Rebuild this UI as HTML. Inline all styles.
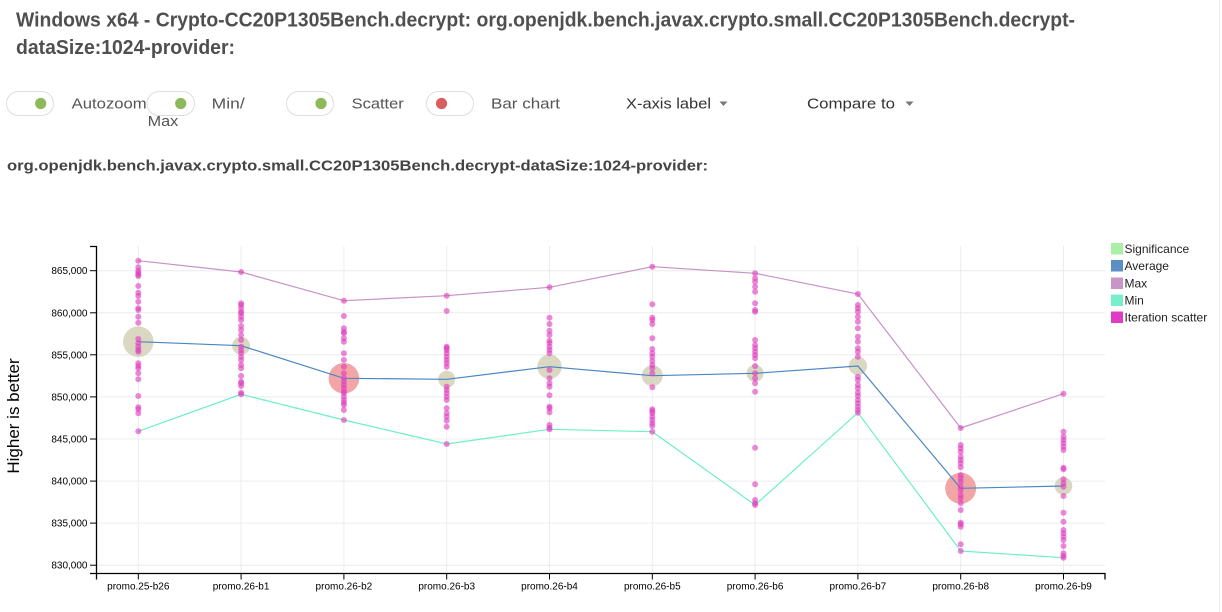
<!DOCTYPE html>
<html><head><meta charset="utf-8">
<style>
html,body{margin:0;padding:0;background:#fff;width:1222px;height:612px;overflow:hidden}
svg{display:block;font-family:"Liberation Sans",Arial,sans-serif}
.ctl{font-size:15px;fill:#555}
.yt{font-size:10px;fill:#000;text-anchor:end}
.xt{font-size:10px;fill:#000;text-anchor:middle}
.lg{font-size:12px;fill:#222}
.g line{stroke:#ececec;stroke-width:1}
.d circle{fill:#de3fbe;fill-opacity:.62}
</style></head>
<body>
<svg width="1222" height="612" viewBox="0 0 1222 612" xmlns="http://www.w3.org/2000/svg">
<!-- header -->
<text x="16" y="26.5" font-size="20" font-weight="bold" fill="#4f4f4f" textLength="1059" lengthAdjust="spacingAndGlyphs">Windows x64 - Crypto-CC20P1305Bench.decrypt: org.openjdk.bench.javax.crypto.small.CC20P1305Bench.decrypt-</text>
<text x="16" y="54" font-size="20" font-weight="bold" fill="#4f4f4f" textLength="219" lengthAdjust="spacingAndGlyphs">dataSize:1024-provider:</text>

<!-- toggles -->
<rect x="6.5" y="91.5" width="47" height="24" rx="12" fill="#fff" stroke="#dedede"/>
<circle cx="40.7" cy="103.5" r="5.6" fill="#8cb95a"/>
<text class="ctl" x="71.7" y="108.5" textLength="75" lengthAdjust="spacingAndGlyphs">Autozoom</text>
<rect x="147" y="91.5" width="47.5" height="24" rx="12" fill="#fff" stroke="#dedede"/>
<circle cx="180.7" cy="103.5" r="5.6" fill="#8cb95a"/>
<text class="ctl" x="211.7" y="108.5" textLength="33" lengthAdjust="spacingAndGlyphs">Min/</text>
<text class="ctl" x="147.7" y="126" textLength="30.6" lengthAdjust="spacingAndGlyphs">Max</text>
<rect x="286.5" y="91.5" width="47" height="24" rx="12" fill="#fff" stroke="#dedede"/>
<circle cx="321" cy="103.5" r="5.6" fill="#8cb95a"/>
<text class="ctl" x="351.7" y="108.5" textLength="52" lengthAdjust="spacingAndGlyphs">Scatter</text>
<rect x="426.5" y="91.5" width="47" height="24" rx="12" fill="#fff" stroke="#dedede"/>
<circle cx="441.5" cy="103.5" r="5.6" fill="#d75f5e"/>
<text class="ctl" x="491" y="108.5" textLength="69" lengthAdjust="spacingAndGlyphs">Bar chart</text>
<text class="ctl" x="626" y="108.5" fill="#333" style="fill:#333" textLength="85" lengthAdjust="spacingAndGlyphs">X-axis label</text>
<path d="M719.5,101.5 h8 l-4,4.5 z" fill="#777"/>
<text class="ctl" x="807" y="108.5" style="fill:#333" textLength="88" lengthAdjust="spacingAndGlyphs">Compare to</text>
<path d="M905.5,101.5 h8 l-4,4.5 z" fill="#777"/>

<text x="7" y="170.5" font-size="15" font-weight="bold" fill="#444" textLength="701" lengthAdjust="spacingAndGlyphs">org.openjdk.bench.javax.crypto.small.CC20P1305Bench.decrypt-dataSize:1024-provider:</text>

<!-- right edge line -->
<line x1="1219.5" y1="0" x2="1219.5" y2="612" stroke="#ececec"/>

<!-- grid -->
<g class="g">
<line x1="97" y1="565.2" x2="1105" y2="565.2"/>
<line x1="97" y1="523.1" x2="1105" y2="523.1"/>
<line x1="97" y1="481.1" x2="1105" y2="481.1"/>
<line x1="97" y1="439" x2="1105" y2="439"/>
<line x1="97" y1="396.9" x2="1105" y2="396.9"/>
<line x1="97" y1="354.8" x2="1105" y2="354.8"/>
<line x1="97" y1="312.8" x2="1105" y2="312.8"/>
<line x1="97" y1="270.7" x2="1105" y2="270.7"/>
<line x1="138.3" y1="246" x2="138.3" y2="573"/>
<line x1="241.1" y1="246" x2="241.1" y2="573"/>
<line x1="343.9" y1="246" x2="343.9" y2="573"/>
<line x1="446.7" y1="246" x2="446.7" y2="573"/>
<line x1="549.5" y1="246" x2="549.5" y2="573"/>
<line x1="652.3" y1="246" x2="652.3" y2="573"/>
<line x1="755.1" y1="246" x2="755.1" y2="573"/>
<line x1="857.9" y1="246" x2="857.9" y2="573"/>
<line x1="960.7" y1="246" x2="960.7" y2="573"/>
<line x1="1063.5" y1="246" x2="1063.5" y2="573"/>
</g>

<!-- significance circles -->
<g fill-opacity="0.85">
<circle cx="138.3" cy="341.7" r="15.3" fill="#d3d0b8"/>
<circle cx="241.1" cy="345.7" r="9" fill="#d3d0b8"/>
<circle cx="343.9" cy="378.3" r="15.3" fill="#ee9596"/>
<circle cx="446.7" cy="379.3" r="8.5" fill="#d3d0b8"/>
<circle cx="549.5" cy="366.7" r="12.2" fill="#d3d0b8"/>
<circle cx="652.3" cy="375.7" r="10.5" fill="#d3d0b8"/>
<circle cx="755.1" cy="373.3" r="8.5" fill="#d3d0b8"/>
<circle cx="857.9" cy="366" r="9.2" fill="#d3d0b8"/>
<circle cx="960.7" cy="488.3" r="15.5" fill="#ee9596"/>
<circle cx="1063.5" cy="486" r="8.8" fill="#d3d0b8"/>
</g>

<!-- lines -->
<polyline fill="none" stroke="#c792c5" stroke-width="1.2" points="138.3,260.7 241.1,272 343.9,300.7 446.7,295.7 549.5,287.3 652.3,266.7 755.1,273.3 857.9,294 960.7,428 1063.5,393.7"/>
<polyline fill="none" stroke="#4a86c2" stroke-width="1.2" points="138.3,341.7 241.1,345.7 343.9,378.3 446.7,379.3 549.5,366.7 652.3,375.7 755.1,373.3 857.9,366 960.7,488.3 1063.5,486"/>
<polyline fill="none" stroke="#6fefc6" stroke-width="1.2" points="138.3,431.3 241.1,394.3 343.9,420 446.7,444 549.5,429.3 652.3,431.7 755.1,505 857.9,412.7 960.7,551 1063.5,557.7"/>

<!-- scatter -->
<g class="d">
<!-- col0 -->
<g transform="translate(138.3,0)">
<circle cy="260.7" r="3"/><circle cy="267.3" r="3"/><circle cy="270.7" r="3"/><circle cy="272.7" r="3"/><circle cy="274.7" r="3"/><circle cy="276" r="3"/><circle cy="286" r="3"/><circle cy="292.7" r="3"/><circle cy="296" r="3"/><circle cy="301.7" r="3"/><circle cy="308.3" r="3"/><circle cy="310" r="3"/><circle cy="316.7" r="3"/><circle cy="322.7" r="3"/><circle cy="339" r="3"/><circle cy="343.3" r="3"/><circle cy="346.7" r="3"/><circle cy="350" r="3"/><circle cy="351.7" r="3"/><circle cy="363.3" r="3"/><circle cy="366" r="3"/><circle cy="368.3" r="3"/><circle cy="373.3" r="3"/><circle cy="379.3" r="3"/><circle cy="396" r="3"/><circle cy="407.3" r="3"/><circle cy="409.3" r="3"/><circle cy="413.3" r="3"/><circle cy="431.3" r="3"/>
</g>
<!-- col1 -->
<g transform="translate(241.1,0)">
<circle cy="272" r="3"/><circle cy="303.3" r="3"/><circle cy="305" r="3"/><circle cy="308" r="3"/><circle cy="311.7" r="3"/><circle cy="313.3" r="3"/><circle cy="316.7" r="3"/><circle cy="320" r="3"/><circle cy="326" r="3"/><circle cy="330" r="3"/><circle cy="335" r="3"/><circle cy="340" r="3"/><circle cy="346.7" r="3"/><circle cy="350" r="3"/><circle cy="353" r="3"/><circle cy="356.7" r="3"/><circle cy="360" r="3"/><circle cy="365" r="3"/><circle cy="368.3" r="3"/><circle cy="376" r="3"/><circle cy="381.7" r="3"/><circle cy="383.3" r="3"/><circle cy="386" r="3"/><circle cy="392.7" r="3"/><circle cy="394.3" r="3"/>
</g>
<!-- col2 -->
<g transform="translate(343.9,0)">
<circle cy="300.7" r="3"/><circle cy="316" r="3"/><circle cy="328.3" r="3"/><circle cy="331.7" r="3"/><circle cy="333.3" r="3"/><circle cy="338.3" r="3"/><circle cy="341.7" r="3"/><circle cy="353.3" r="3"/><circle cy="360" r="3"/><circle cy="366.7" r="3"/><circle cy="373.3" r="3"/><circle cy="378.3" r="3"/><circle cy="381.7" r="3"/><circle cy="385" r="3"/><circle cy="388.3" r="3"/><circle cy="391.7" r="3"/><circle cy="393" r="3"/><circle cy="396.7" r="3"/><circle cy="400" r="3"/><circle cy="402.7" r="3"/><circle cy="405" r="3"/><circle cy="410" r="3"/><circle cy="420" r="3"/>
</g>
<!-- col3 -->
<g transform="translate(446.7,0)">
<circle cy="295.7" r="3"/><circle cy="311" r="3"/><circle cy="346.7" r="3"/><circle cy="348" r="3"/><circle cy="350" r="3"/><circle cy="353.3" r="3"/><circle cy="356.7" r="3"/><circle cy="360" r="3"/><circle cy="363.3" r="3"/><circle cy="366.7" r="3"/><circle cy="386.7" r="3"/><circle cy="390" r="3"/><circle cy="393.3" r="3"/><circle cy="396.7" r="3"/><circle cy="400" r="3"/><circle cy="408.3" r="3"/><circle cy="413.3" r="3"/><circle cy="416.7" r="3"/><circle cy="420.7" r="3"/><circle cy="426.7" r="3"/><circle cy="444" r="3"/>
</g>
<!-- col4 -->
<g transform="translate(549.5,0)">
<circle cy="287.3" r="3"/><circle cy="317.7" r="3"/><circle cy="324" r="3"/><circle cy="330.7" r="3"/><circle cy="335" r="3"/><circle cy="340.7" r="3"/><circle cy="343" r="3"/><circle cy="346.7" r="3"/><circle cy="350" r="3"/><circle cy="353.3" r="3"/><circle cy="370" r="3"/><circle cy="378.3" r="3"/><circle cy="383.3" r="3"/><circle cy="386.7" r="3"/><circle cy="395.3" r="3"/><circle cy="406.7" r="3"/><circle cy="408.3" r="3"/><circle cy="412.3" r="3"/><circle cy="425" r="3"/><circle cy="427.7" r="3"/><circle cy="429.3" r="3"/>
</g>
<!-- col5 -->
<g transform="translate(652.3,0)">
<circle cy="266.7" r="3"/><circle cy="304.3" r="3"/><circle cy="317.7" r="3"/><circle cy="320" r="3"/><circle cy="324" r="3"/><circle cy="338.3" r="3"/><circle cy="349" r="3"/><circle cy="353.3" r="3"/><circle cy="356.7" r="3"/><circle cy="361" r="3"/><circle cy="365" r="3"/><circle cy="368.3" r="3"/><circle cy="373.3" r="3"/><circle cy="387.3" r="3"/><circle cy="409.3" r="3"/><circle cy="411" r="3"/><circle cy="413.3" r="3"/><circle cy="416.7" r="3"/><circle cy="420" r="3"/><circle cy="423.3" r="3"/><circle cy="426" r="3"/><circle cy="431.7" r="3"/>
</g>
<!-- col6 -->
<g transform="translate(755.1,0)">
<circle cy="273.3" r="3"/><circle cy="278.3" r="3"/><circle cy="281.7" r="3"/><circle cy="286.7" r="3"/><circle cy="291.7" r="3"/><circle cy="303.3" r="3"/><circle cy="310" r="3"/><circle cy="311.7" r="3"/><circle cy="340" r="3"/><circle cy="345" r="3"/><circle cy="348.3" r="3"/><circle cy="351.7" r="3"/><circle cy="355" r="3"/><circle cy="358.3" r="3"/><circle cy="366" r="3"/><circle cy="373.3" r="3"/><circle cy="378.3" r="3"/><circle cy="383.3" r="3"/><circle cy="391.7" r="3"/><circle cy="447.7" r="3"/><circle cy="484.3" r="3"/><circle cy="500" r="3"/><circle cy="503.3" r="3"/><circle cy="505" r="3"/>
</g>
<!-- col7 -->
<g transform="translate(857.9,0)">
<circle cy="294" r="3"/><circle cy="305" r="3"/><circle cy="308.3" r="3"/><circle cy="311.7" r="3"/><circle cy="316.7" r="3"/><circle cy="321.7" r="3"/><circle cy="328.3" r="3"/><circle cy="336.7" r="3"/><circle cy="341.7" r="3"/><circle cy="348.3" r="3"/><circle cy="351.7" r="3"/><circle cy="356.7" r="3"/><circle cy="376.7" r="3"/><circle cy="380" r="3"/><circle cy="385" r="3"/><circle cy="388.3" r="3"/><circle cy="392.7" r="3"/><circle cy="396" r="3"/><circle cy="400" r="3"/><circle cy="403.3" r="3"/><circle cy="406.7" r="3"/><circle cy="410" r="3"/><circle cy="412.7" r="3"/>
</g>
<!-- col8 -->
<g transform="translate(960.7,0)">
<circle cy="428" r="3"/><circle cy="445" r="3"/><circle cy="448.3" r="3"/><circle cy="451.7" r="3"/><circle cy="456.7" r="3"/><circle cy="460" r="3"/><circle cy="463.3" r="3"/><circle cy="467.3" r="3"/><circle cy="475" r="3"/><circle cy="478.3" r="3"/><circle cy="481.7" r="3"/><circle cy="486.7" r="3"/><circle cy="490" r="3"/><circle cy="495" r="3"/><circle cy="498.3" r="3"/><circle cy="503.3" r="3"/><circle cy="510" r="3"/><circle cy="522.7" r="3"/><circle cy="524.3" r="3"/><circle cy="526.7" r="3"/><circle cy="544.3" r="3"/><circle cy="551" r="3"/>
</g>
<!-- col9 -->
<g transform="translate(1063.5,0)">
<circle cy="393.7" r="3"/><circle cy="431.7" r="3"/><circle cy="436.7" r="3"/><circle cy="440" r="3"/><circle cy="443.3" r="3"/><circle cy="446.7" r="3"/><circle cy="450" r="3"/><circle cy="467.7" r="3"/><circle cy="469.3" r="3"/><circle cy="479.3" r="3"/><circle cy="483.3" r="3"/><circle cy="486.7" r="3"/><circle cy="496" r="3"/><circle cy="512.7" r="3"/><circle cy="521.7" r="3"/><circle cy="530" r="3"/><circle cy="533.3" r="3"/><circle cy="536.7" r="3"/><circle cy="540" r="3"/><circle cy="546" r="3"/><circle cy="553.3" r="3"/><circle cy="556" r="3"/><circle cy="557.7" r="3"/>
</g>
</g>

<!-- axes -->
<path d="M90,246.5H96.5V573.5H90" fill="none" stroke="#000" stroke-width="1.3"/>
<path d="M96.5,579.5V573.5H1105V579.5" fill="none" stroke="#000" stroke-width="1.3"/>
<g stroke="#000" stroke-width="1">
<line x1="90" y1="565.2" x2="96.5" y2="565.2"/>
<line x1="90" y1="523.1" x2="96.5" y2="523.1"/>
<line x1="90" y1="481.1" x2="96.5" y2="481.1"/>
<line x1="90" y1="439" x2="96.5" y2="439"/>
<line x1="90" y1="396.9" x2="96.5" y2="396.9"/>
<line x1="90" y1="354.8" x2="96.5" y2="354.8"/>
<line x1="90" y1="312.8" x2="96.5" y2="312.8"/>
<line x1="90" y1="270.7" x2="96.5" y2="270.7"/>
<line x1="138.3" y1="573.5" x2="138.3" y2="579.5"/>
<line x1="241.1" y1="573.5" x2="241.1" y2="579.5"/>
<line x1="343.9" y1="573.5" x2="343.9" y2="579.5"/>
<line x1="446.7" y1="573.5" x2="446.7" y2="579.5"/>
<line x1="549.5" y1="573.5" x2="549.5" y2="579.5"/>
<line x1="652.3" y1="573.5" x2="652.3" y2="579.5"/>
<line x1="755.1" y1="573.5" x2="755.1" y2="579.5"/>
<line x1="857.9" y1="573.5" x2="857.9" y2="579.5"/>
<line x1="960.7" y1="573.5" x2="960.7" y2="579.5"/>
<line x1="1063.5" y1="573.5" x2="1063.5" y2="579.5"/>
</g>
<text class="yt" x="87.5" y="568.7">830,000</text>
<text class="yt" x="87.5" y="526.6">835,000</text>
<text class="yt" x="87.5" y="484.6">840,000</text>
<text class="yt" x="87.5" y="442.5">845,000</text>
<text class="yt" x="87.5" y="400.4">850,000</text>
<text class="yt" x="87.5" y="358.3">855,000</text>
<text class="yt" x="87.5" y="316.3">860,000</text>
<text class="yt" x="87.5" y="274.2">865,000</text>

<text class="xt" x="138.3" y="589.5">promo.25-b26</text>
<text class="xt" x="241.1" y="589.5">promo.26-b1</text>
<text class="xt" x="343.9" y="589.5">promo.26-b2</text>
<text class="xt" x="446.7" y="589.5">promo.26-b3</text>
<text class="xt" x="549.5" y="589.5">promo.26-b4</text>
<text class="xt" x="652.3" y="589.5">promo.26-b5</text>
<text class="xt" x="755.1" y="589.5">promo.26-b6</text>
<text class="xt" x="857.9" y="589.5">promo.26-b7</text>
<text class="xt" x="960.7" y="589.5">promo.26-b8</text>
<text class="xt" x="1063.5" y="589.5">promo.26-b9</text>

<text transform="translate(19,416) rotate(-90)" text-anchor="middle" font-size="17" fill="#000">Higher is better</text>

<!-- legend -->
<rect x="1111" y="243" width="12" height="11.5" fill="#a9f0a6"/>
<text class="lg" x="1124.5" y="253">Significance</text>
<rect x="1111" y="260" width="12" height="11.5" fill="#5a8fc3"/>
<text class="lg" x="1124.5" y="270">Average</text>
<rect x="1111" y="277.5" width="12" height="11.5" fill="#c896c6"/>
<text class="lg" x="1124.5" y="287.5">Max</text>
<rect x="1111" y="294.5" width="12" height="11.5" fill="#78efca"/>
<text class="lg" x="1124.5" y="304.5">Min</text>
<rect x="1111" y="311.5" width="12" height="11.5" fill="#e03cc3"/>
<text class="lg" x="1124.5" y="321.5">Iteration scatter</text>
</svg>
</body></html>
